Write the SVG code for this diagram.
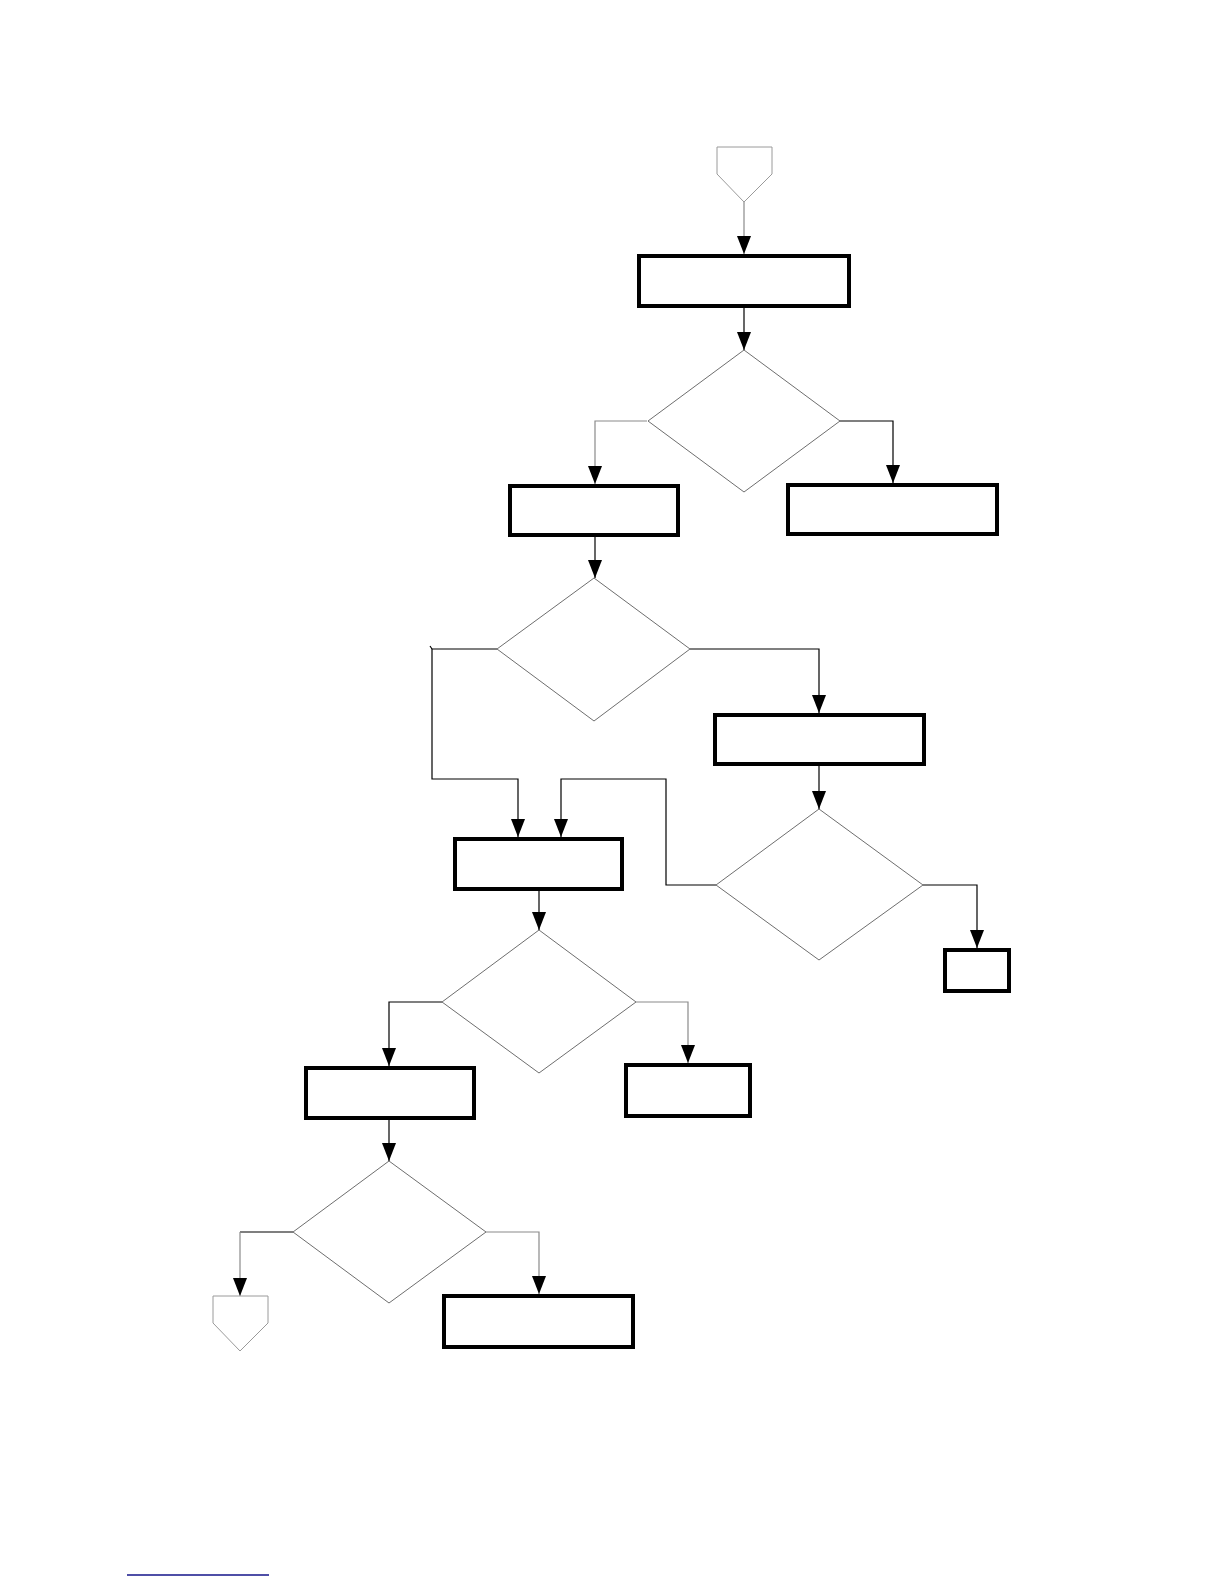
<svg xmlns="http://www.w3.org/2000/svg" width="1224" height="1584" viewBox="0 0 1224 1584">
<style>
.box{fill:#fff;stroke:#000;stroke-width:4}
.dia{fill:#fff;stroke:#6e6e6e;stroke-width:1}
.off{fill:#fff;stroke:#9a9a9a;stroke-width:1}
.c{fill:none;stroke:#000;stroke-width:1.2}
.g{fill:none;stroke:#8a8a8a;stroke-width:1.2}
</style>
<defs>
<marker id="ah" markerUnits="userSpaceOnUse" markerWidth="18" markerHeight="14" refX="18" refY="7" viewBox="0 0 18 14" orient="auto">
<path d="M0,0 L18,7 L0,14 Z" fill="#000"/>
</marker>
</defs>
<rect width="1224" height="1584" fill="#fff"/>
<g id="connectors">
<path class="g" d="M744,202 V254" marker-end="url(#ah)"/>
<path class="c" d="M744,308 V350" marker-end="url(#ah)"/>
<path class="g" d="M647,421 H595 V484" marker-end="url(#ah)"/>
<path class="c" d="M839,421 H893 V483" marker-end="url(#ah)"/>
<path class="c" d="M595,537 V578" marker-end="url(#ah)"/>
<path class="c" d="M497,649 H432 V779 H518 V837" marker-end="url(#ah)"/>
<path class="c" d="M430,646 L432,649"/>
<path class="c" d="M690,649 H819 V713" marker-end="url(#ah)"/>
<path class="c" d="M819,766 V809" marker-end="url(#ah)"/>
<path class="c" d="M716,885 H666 V779 H561 V837" marker-end="url(#ah)"/>
<path class="c" d="M923,885 H977 V948" marker-end="url(#ah)"/>
<path class="c" d="M539,891 V930" marker-end="url(#ah)"/>
<path class="c" d="M442,1002 H389 V1066" marker-end="url(#ah)"/>
<path class="g" d="M636,1002 H688 V1063" marker-end="url(#ah)"/>
<path class="c" d="M389,1120 V1161" marker-end="url(#ah)"/>
<path class="c" d="M293,1232 H240"/>
<path class="g" d="M240,1232 V1296" marker-end="url(#ah)"/>
<path class="g" d="M486,1232 H539 V1294" marker-end="url(#ah)"/>
</g>
<g id="start"><polygon class="off" points="717,147 772,147 772,174 744,202 717,174"/></g>
<g id="r1"><rect class="box" x="639" y="256" width="210" height="50"/></g>
<g id="d1"><polygon class="dia" points="744,350 840,421 744,492 648,421"/></g>
<g id="r2"><rect class="box" x="510" y="486" width="168" height="49"/></g>
<g id="r3"><rect class="box" x="788" y="485" width="209" height="49"/></g>
<g id="d2"><polygon class="dia" points="594,578 690,649 594,721 497,649"/></g>
<g id="r5"><rect class="box" x="715" y="715" width="209" height="49"/></g>
<g id="d3"><polygon class="dia" points="819,809 923,885 819,960 716,885"/></g>
<g id="r6"><rect class="box" x="945" y="950" width="64" height="41"/></g>
<g id="r4"><rect class="box" x="455" y="839" width="167" height="50"/></g>
<g id="d4"><polygon class="dia" points="539,930 636,1002 539,1073 442,1002"/></g>
<g id="r7"><rect class="box" x="306" y="1068" width="168" height="50"/></g>
<g id="r8"><rect class="box" x="626" y="1065" width="124" height="51"/></g>
<g id="d5"><polygon class="dia" points="389,1161 486,1232 389,1303 293,1232"/></g>
<g id="r9"><rect class="box" x="444" y="1296" width="189" height="51"/></g>
<g id="end"><polygon class="off" points="213,1296 268,1296 268,1323 240,1351 213,1323"/></g>
<line x1="127" y1="1575" x2="269" y2="1575" stroke="#14148a" stroke-width="1.5"/>
</svg>
